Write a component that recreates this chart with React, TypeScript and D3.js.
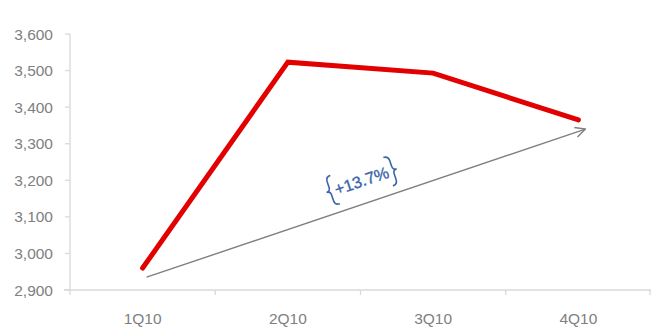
import React from "react";
import * as d3 from "d3";

const categories = ["1Q10", "2Q10", "3Q10", "4Q10"];
const values = [2960, 3523, 3493, 3365];
const yTicks = [2900, 3000, 3100, 3200, 3300, 3400, 3500, 3600];
const arrowFrom = { cat: "1Q10", value: 2935 };
const arrowTo = { cat: "4Q10", value: 3340 };
const annotation = "+13.7%";

const W = 653, H = 332;
const m = { left: 70, right: 2, top: 34, bottom: 42 };
const FONT = "'Liberation Sans', Arial, sans-serif";

function brace(side: number, L: number, h: number) {
  const s = side;
  const x0 = s * L;
  const tip = 4;
  const r = 5;
  return `M${x0 - s * r},${-h / 2} Q${x0},${-h / 2} ${x0},${-h / 2 + r} L${x0},${-tip} Q${x0},0 ${x0 + s * tip},0 Q${x0},0 ${x0},${tip} L${x0},${h / 2 - r} Q${x0},${h / 2} ${x0 - s * r},${h / 2}`;
}

export default function App() {
  const x = d3.scaleBand().domain(categories).range([m.left, W - m.right]);
  const y = d3.scaleLinear().domain([2900, 3600]).range([H - m.bottom, m.top]);
  const cx = (c: string) => (x(c) as number) + x.bandwidth() / 2;
  const line = d3.line<number>().x((_, i) => cx(categories[i])).y((d) => y(d));
  const axisColor = "#d9d9d9";
  const textColor = "#808080";
  const ax1 = cx(arrowFrom.cat) + 4, ay1 = y(arrowFrom.value);
  const ax2 = cx(arrowTo.cat) + 7, ay2 = y(arrowTo.value);
  const ang = (Math.atan2(ay2 - ay1, ax2 - ax1) * 180) / Math.PI;
  const mx = ax1 + (ax2 - ax1) * 0.49, my = ay1 + (ay2 - ay1) * 0.49 - 24;
  const y0 = H - m.bottom;
  return (
    <svg width={W} height={H} style={{ position: "absolute", left: 0, top: 0, fontFamily: FONT }}>
      <defs>
        <marker id="arr" viewBox="0 0 12 12" refX="11" refY="6" markerWidth="12" markerHeight="12" markerUnits="userSpaceOnUse" orient="auto">
          <path d="M1,1 L11,6 L1,11" fill="none" stroke="#7f7f7f" strokeWidth={1.4} />
        </marker>
      </defs>
      <line x1={m.left} x2={m.left} y1={m.top} y2={y0} stroke={axisColor} strokeWidth={1.3} />
      {yTicks.map((t) => (
        <g key={t}>
          <line x1={m.left - 5} x2={m.left} y1={y(t)} y2={y(t)} stroke={axisColor} strokeWidth={1.3} />
          <text x={m.left - 17} y={y(t)} dy="0.36em" textAnchor="end" fontSize={15.5} fill={textColor}>
            {d3.format(",")(t)}
          </text>
        </g>
      ))}
      <line x1={m.left - 6} x2={W - m.right} y1={y0} y2={y0} stroke={axisColor} strokeWidth={1.3} />
      {categories.map((c) => (
        <line key={c} x1={x(c) as number} x2={x(c) as number} y1={y0} y2={y0 + 5} stroke={axisColor} strokeWidth={1.3} />
      ))}
      <line x1={W - m.right - 1} x2={W - m.right - 1} y1={y0} y2={y0 + 5} stroke={axisColor} strokeWidth={1.3} />
      {categories.map((c) => (
        <text key={c} x={cx(c)} y={y0 + 34} textAnchor="middle" fontSize={15.5} fill={textColor}>
          {c}
        </text>
      ))}
      <line x1={ax1} y1={ay1} x2={ax2} y2={ay2} stroke="#7f7f7f" strokeWidth={1.4} markerEnd="url(#arr)" />
      <path d={line(values) as string} fill="none" stroke="#e30000" strokeWidth={5} strokeLinecap="round" strokeLinejoin="miter" />
      <g transform={`translate(${mx},${my}) rotate(${ang})`}>
        <text x={0} y={0} dy="0.36em" textAnchor="middle" fontSize={16.5} fill="#3b66a8" stroke="#3b66a8" strokeWidth={0.35}>
          {annotation}
        </text>
        <path d={brace(-1, 33, 30)} fill="none" stroke="#3b66a8" strokeWidth={1.6} />
        <path d={brace(1, 33, 30)} fill="none" stroke="#3b66a8" strokeWidth={1.6} />
      </g>
    </svg>
  );
}
